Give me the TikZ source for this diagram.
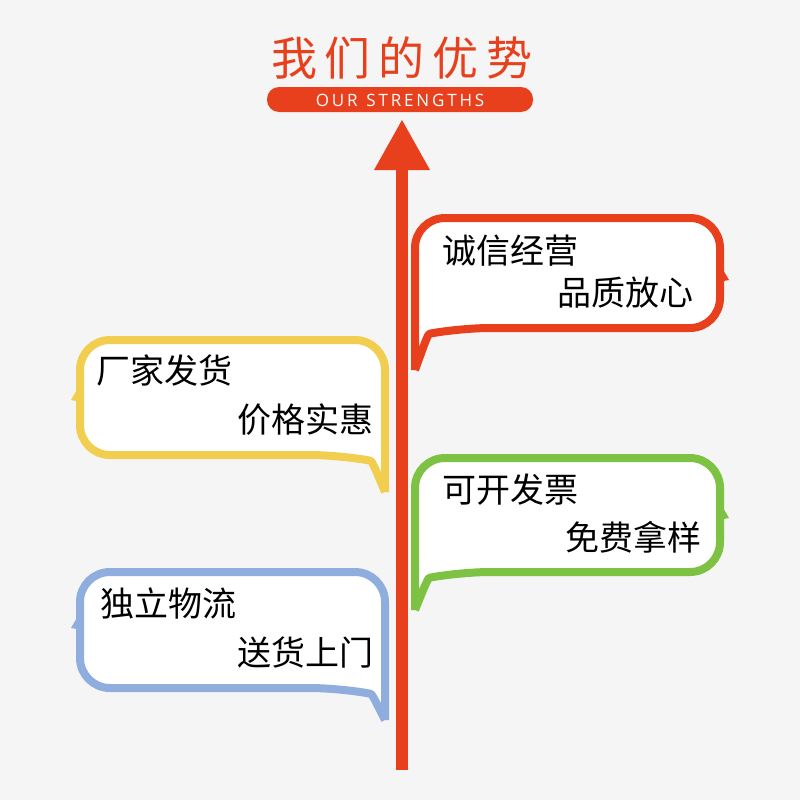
\documentclass[tikz,border=0pt]{standalone}
\usepackage{fontspec}
\newfontfamily\cjk{Noto Sans CJK SC}
\setsansfont{Open Sans}
\definecolor{arrowred}{HTML}{E8401C}
\definecolor{bubyellow}{HTML}{F2CE50}
\definecolor{bubgreen}{HTML}{7DC242}
\definecolor{bubblue}{HTML}{8FAEDD}
\tikzset{
  bub/.style={line width=8pt, fill=white, line join=round},
  txt/.style={inner sep=0pt, font=\cjk\fontsize{34}{34}\selectfont}
}
% right-hand bubble: colour, top, bottom, tail tip, notch
\newcommand\rightbubble[5]{
  \draw[bub, draw=#1] (415,#4) -- (415,#2+30)
    [rounded corners=30] -- (415,#2) -- (720,#2) -- (720,#3) -- (460,#3)
    [sharp corners] .. controls (428,#3+6) .. (415,#4);
  \fill[#1] (722,#5-12) -- (729,#5) -- (718,#5+2) -- cycle;
}
% left-hand bubble: colour, top, bottom, tail tip, notch
\newcommand\leftbubble[5]{
  \draw[bub, draw=#1] (385,#4) -- (385,#2+30)
    [rounded corners=30] -- (385,#2) -- (80,#2) -- (80,#3) -- (340,#3)
    [sharp corners] .. controls (372,#3+6) .. (385,#4);
  \fill[#1] (78,#5-12) -- (71,#5) -- (82,#5+2) -- cycle;
}
\begin{document}
\begin{tikzpicture}[x=1pt, y=-1pt]
  \fill[gray!8] (0,0) rectangle (800,800);
  % title
  \node[inner sep=0pt, text=arrowred, font=\cjk\fontsize{46}{46}\selectfont] (title) at (402,58)
    {我\hspace{8pt}们\hspace{8pt}的\hspace{8pt}优\hspace{8pt}势};
  \fill[arrowred, rounded corners=12] (267,87) rectangle (533,112);
  \node[inner sep=0pt, text=white, font=\sffamily\fontsize{17}{17}\selectfont] (sub) at (400,100)
    {O\,U\,R\ \ S\,T\,R\,E\,N\,G\,T\,H\,S};
  % main arrow
  \coordinate (foot) at (402,770);
  \coordinate (head) at (402,120);
  \fill[arrowred] (396,770) rectangle (408,168);
  \fill[arrowred] (head) -- (430,170) -- (374,170) -- cycle;
  % bubbles
  \rightbubble{arrowred}{218}{328}{370}{280}
  \rightbubble{bubgreen}{458}{572}{610}{518}
  \leftbubble{bubyellow}{340}{455}{492}{400}
  \leftbubble{bubblue}{572}{688}{720}{628}
  % texts
  \node[txt, anchor=west] (r1a) at (442,251) {诚信经营};
  \node[txt, anchor=east] (r1b) at (694,293) {品质放心};
  \node[txt, anchor=west] (r2a) at (442,490) {可开发票};
  \node[txt, anchor=east] (r2b) at (702,537) {免费拿样};
  \node[txt, anchor=west] (l1a) at (96,371) {厂家发货};
  \node[txt, anchor=east] (l1b) at (374,420) {价格实惠};
  \node[txt, anchor=west] (l2a) at (100,603) {独立物流};
  \node[txt, anchor=east] (l2b) at (374,653) {送货上门};
\end{tikzpicture}
\end{document}
